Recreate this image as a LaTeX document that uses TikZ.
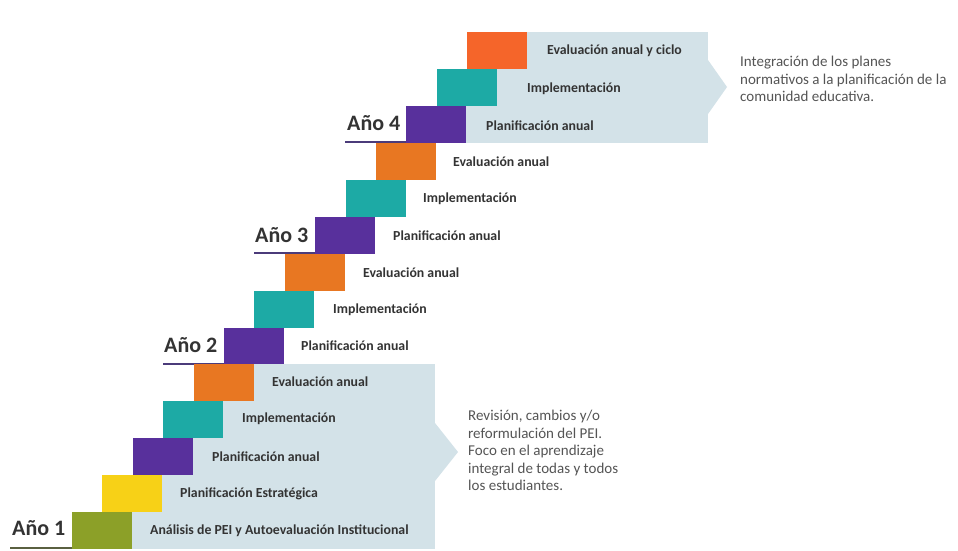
\documentclass[tikz,border=0pt]{standalone}
\usepackage{fontspec}
\setmainfont{Carlito}
\definecolor{cgreen}{HTML}{8CA028}
\definecolor{cyellow}{HTML}{F7D117}
\definecolor{cpurple}{HTML}{58309C}
\definecolor{cteal}{HTML}{1DAAA5}
\definecolor{corange}{HTML}{E87722}
\definecolor{cred}{HTML}{F5652A}
\definecolor{cpanel}{HTML}{D3E2E8}
\definecolor{ctext}{HTML}{333333}
\definecolor{cnote}{HTML}{555555}
\definecolor{cline1}{HTML}{5A6040}
\definecolor{cline}{HTML}{4B3B7A}
\tikzset{
  block/.style={anchor=north west, minimum width=60pt, minimum height=36.9pt, inner sep=0pt, outer sep=0pt},
  steplabel/.style={anchor=west, inner sep=0pt, text=ctext, font=\fontsize{13.8}{16}\selectfont\bfseries},
  yearlabel/.style={anchor=west, inner sep=0pt, text=ctext, font=\fontsize{22}{24}\selectfont\bfseries},
  note/.style={anchor=north west, inner sep=0pt, align=left, text=cnote, font=\fontsize{15}{17.5}\selectfont},
  yearline/.style={line width=2pt, cline}
}
\begin{document}
\begin{tikzpicture}[x=1pt,y=-1pt]
\useasboundingbox (0,0) rectangle (958,550);
\fill[white] (0,0) rectangle (958,550);
% panels (staircase bands)
\foreach \i in {0,...,4} {
  \fill[cpanel] ({72+30.4*\i},{512-36.9*\i}) rectangle (435,{548.9-36.9*\i});
}
\fill[cpanel] (435,423) -- (458,452) -- (435,481) -- cycle;
\foreach \i in {11,12,13} {
  \fill[cpanel] ({72+30.4*\i},{512-36.9*\i}) rectangle (708,{548.9-36.9*\i});
}
\fill[cpanel] (708,60) -- (727,87) -- (708,114) -- cycle;
% year underlines
\draw[line width=2pt, cline1] (10,547.5) -- (72,547.5);
\draw[yearline] (163,364) -- (224,364);
\draw[yearline] (254,253) -- (315,253);
\draw[yearline] (345,142) -- (406,142);
% blocks
\node[block, fill=cgreen]  (b0)  at (72,512) {};
\node[block, fill=cyellow] (b1)  at (102.4,475.1) {};
\node[block, fill=cpurple] (b2)  at (132.8,438.2) {};
\node[block, fill=cteal]   (b3)  at (163.2,401.3) {};
\node[block, fill=corange] (b4)  at (193.6,364.4) {};
\node[block, fill=cpurple] (b5)  at (224,327.5) {};
\node[block, fill=cteal]   (b6)  at (254.4,290.6) {};
\node[block, fill=corange] (b7)  at (284.8,253.7) {};
\node[block, fill=cpurple] (b8)  at (315.2,216.8) {};
\node[block, fill=cteal]   (b9)  at (345.6,179.9) {};
\node[block, fill=corange] (b10) at (376,143) {};
\node[block, fill=cpurple] (b11) at (406.4,106.1) {};
\node[block, fill=cteal]   (b12) at (436.8,69.2) {};
\node[block, fill=cred]    (b13) at (467.2,32.3) {};
% step labels
\node[steplabel] (l0)  at (150,530.5) {Análisis de PEI y Autoevaluación Institucional};
\node[steplabel] (l1)  at (180,493.6) {Planificación Estratégica};
\node[steplabel] (l2)  at (212,456.7) {Planificación anual};
\node[steplabel] (l3)  at (242,418.8) {Implementación};
\node[steplabel] (l4)  at (272,382) {Evaluación anual};
\node[steplabel] (l5)  at (301,346) {Planificación anual};
\node[steplabel] (l6)  at (333,310) {Implementación};
\node[steplabel] (l7)  at (363,272.2) {Evaluación anual};
\node[steplabel] (l8)  at (393,235.3) {Planificación anual};
\node[steplabel] (l9)  at (423,198.4) {Implementación};
\node[steplabel] (l10) at (453,161.5) {Evaluación anual};
\node[steplabel] (l11) at (486,125.6) {Planificación anual};
\node[steplabel] (l12) at (527,88.7) {Implementación};
\node[steplabel] (l13) at (547,50.8) {Evaluación anual y ciclo};
% year labels
\node[yearlabel] (y1) at (12,528) {Año 1};
\node[yearlabel] (y2) at (164,345) {Año 2};
\node[yearlabel] (y3) at (255,235) {Año 3};
\node[yearlabel] (y4) at (347,123) {Año 4};
% notes
\node[note] (n1) at (740,56) {Integración de los planes\\normativos a la planificación de la\\comunidad educativa.};
\node[note] (n2) at (468,410) {Revisión, cambios y/o\\reformulación del PEI.\\Foco en el aprendizaje\\integral de todas y todos\\los estudiantes.};
\end{tikzpicture}
\end{document}
